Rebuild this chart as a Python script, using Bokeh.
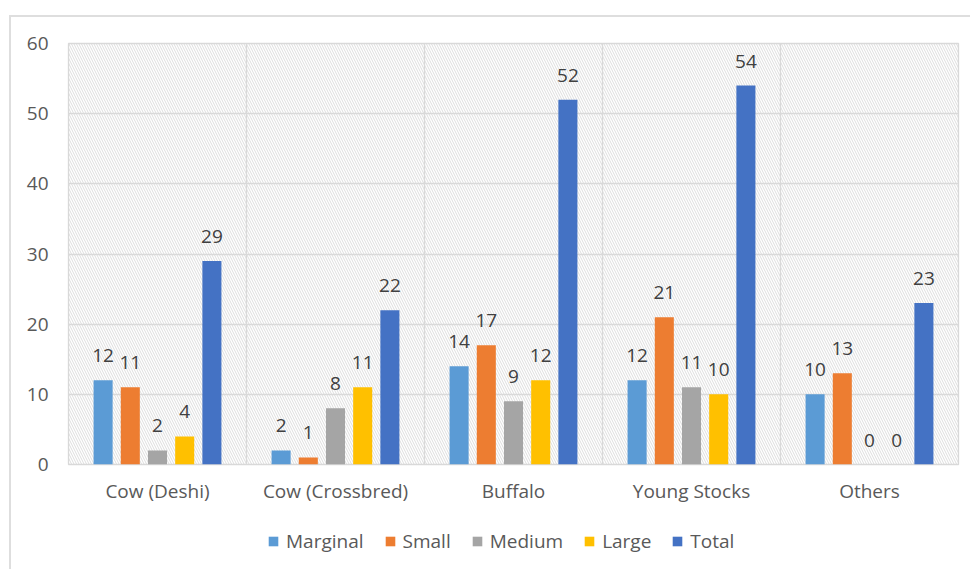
from bokeh.plotting import figure
from bokeh.layouts import column
from bokeh.models import (ColumnDataSource, FactorRange, Legend, LegendItem,
                          BoxAnnotation, LabelSet, Span, FixedTicker)
from bokeh.transform import dodge
from bokeh.core.properties import value
from bokeh.embed import file_html
from bokeh.resources import INLINE

categories = ["Cow (Deshi)", "Cow (Crossbred)", "Buffalo", "Young Stocks", "Others"]
marginal = [12, 2, 14, 12, 10]
small = [11, 1, 17, 21, 13]
medium = [2, 8, 9, 11, 0]
large = [4, 11, 12, 10, 0]
total = [29, 22, 52, 54, 23]
series_names = ["Marginal", "Small", "Medium", "Large", "Total"]
series_values = [marginal, small, medium, large, total]
colors = ["#5B9BD5", "#ED7D31", "#A5A5A5", "#FFC000", "#4472C4"]
y_ticks = [0, 10, 20, 30, 40, 50, 60]

FONT = "Open Sans"

p = figure(x_range=FactorRange(factors=categories, range_padding=0),
           y_range=(0, 60), width=959, height=498,
           output_backend="svg", toolbar_location=None,
           min_border_left=57, min_border_right=12,
           min_border_top=26, min_border_bottom=51)

p.background_fill_color = "white"
p.border_fill_color = "white"
p.outline_line_color = "#d9d9d9"
p.outline_line_width = 1.3

# hatched plot area
hatch = BoxAnnotation(fill_color="white", fill_alpha=0, line_color=None,
                      hatch_pattern="\\", hatch_color="#d4d4d4",
                      hatch_scale=5, hatch_weight=0.8, level="image")
p.add_layout(hatch)

p.xgrid.visible = False
p.ygrid.grid_line_color = "#d9d9d9"
p.ygrid.grid_line_width = 1.3
p.ygrid.ticker = FixedTicker(ticks=y_ticks)
for i in range(1, len(categories)):
    p.add_layout(Span(location=i, dimension="height", line_color="#d9d9d9",
                      line_width=1.3, level="underlay"))

step = 0.1528
offsets = [-2 * step, -step, 0, step, 2 * step]
sources = []
for name, vals, col, off in zip(series_names, series_values, colors, offsets):
    src = ColumnDataSource(dict(cats=categories, val=vals, lbl=[str(v) for v in vals]))
    sources.append(src)
    p.vbar(x=dodge("cats", off, range=p.x_range), top="val", width=0.107,
           source=src, fill_color=col, line_color=None)
    labels = LabelSet(x=dodge("cats", off, range=p.x_range), y="val", text="lbl",
                      source=src, y_offset=18, text_align="center",
                      text_baseline="alphabetic", text_font_size="19px",
                      text_color="#404040", text_font=value(FONT))
    p.add_layout(labels)

for ax in (p.xaxis, p.yaxis):
    ax.axis_line_color = None
    ax.major_tick_line_color = None
    ax.minor_tick_line_color = None
    ax.major_tick_out = 0
    ax.major_tick_in = 0
    ax.major_label_text_font_size = "19px"
    ax.major_label_text_color = "#595959"
    ax.major_label_text_font = FONT

p.yaxis.ticker = FixedTicker(ticks=y_ticks)
p.yaxis.major_label_standoff = 20
p.xaxis.major_label_standoff = 13

# legend strip below the chart (hidden proxy renderers carry the series styles)
pl = figure(width=959, height=54, x_range=(0, 1), y_range=(0, 1),
            output_backend="svg", toolbar_location=None,
            min_border=0, x_axis_type=None, y_axis_type=None)
pl.outline_line_color = None
pl.grid.visible = False
pl.background_fill_color = "white"
pl.border_fill_color = "white"
items = []
for name, col, src in zip(series_names, colors, sources):
    r = pl.vbar(x="val", top="val", width=0.1, source=src,
                fill_color=col, line_color=None, visible=False)
    items.append(LegendItem(label=name, renderers=[r]))

legend = Legend(items=items, orientation="horizontal", location=(199, 15),
                glyph_width=12, glyph_height=12, label_standoff=7, spacing=20,
                padding=0, margin=0, border_line_color=None,
                background_fill_alpha=0, label_text_font_size="19px",
                label_text_color="#595959", label_text_font=FONT)
pl.add_layout(legend)

layout = column(p, pl, spacing=0, margin=(15, 0, 0, 9),
                styles={"border-top": "2px solid #dedede",
                        "border-left": "2px solid #dedede"})

open("out.html", "w").write(file_html(layout, INLINE))
